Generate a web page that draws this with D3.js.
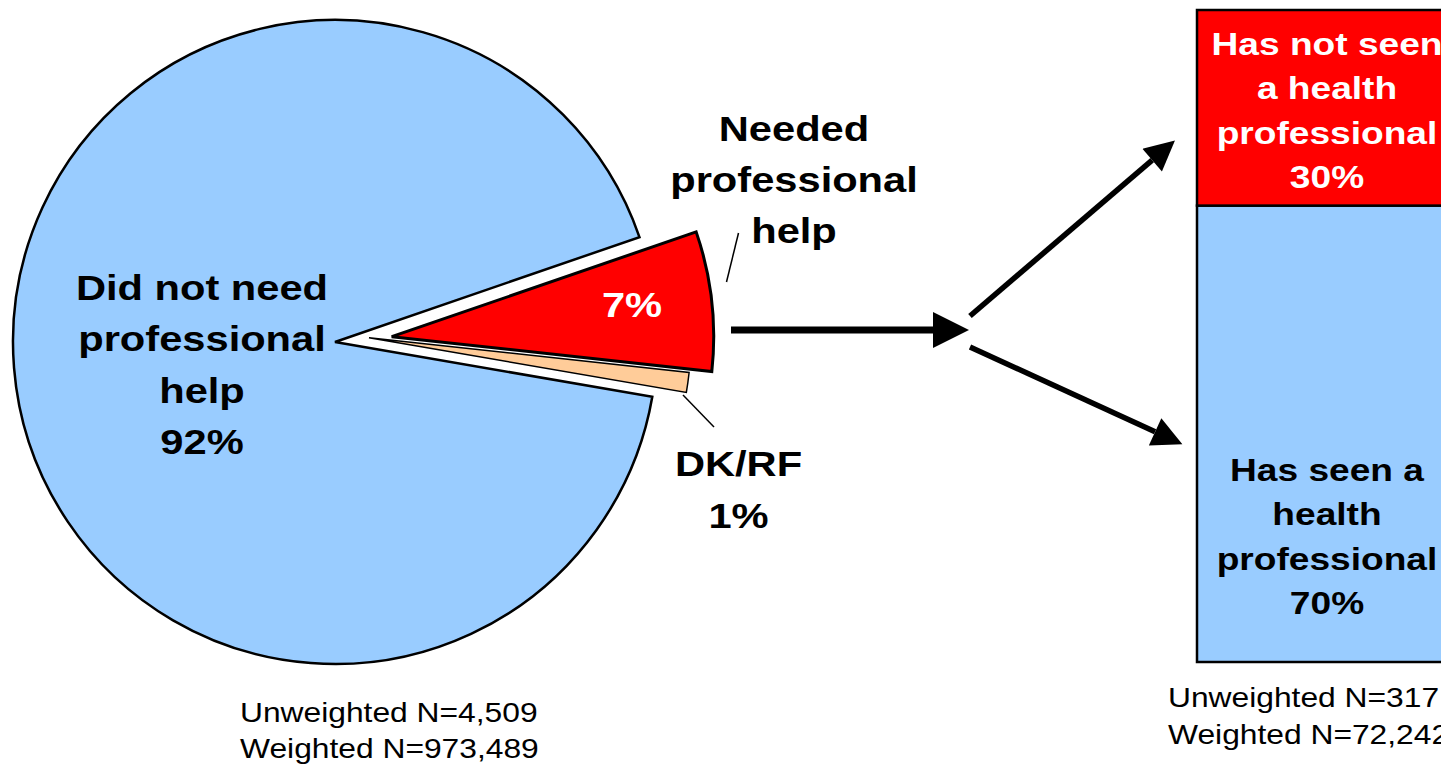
<!DOCTYPE html>
<html><head><meta charset="utf-8">
<script src="https://cdn.jsdelivr.net/npm/d3@7"></script>
<style>
html,body{margin:0;padding:0;background:#fff;}
svg{display:block;font-family:"Liberation Sans",Arial,sans-serif;}
</style></head>
<body>
<svg id="c" width="1441" height="765"></svg>
<script>
// ---- data ----
const pieCategories = ["Needed professional help", "DK/RF", "Did not need professional help"];
const pieValues = [7, 1, 92];
const pieColors = ["#FF0000", "#FFCC99", "#99CCFF"];
const pieLabelLines = [["Needed", "professional", "help"], ["DK/RF", "1%"], ["Did not need", "professional", "help", "92%"]];
const barCategories = ["Has seen a health professional", "Has not seen a health professional"];
const barValues = [70, 30];
const barColors = ["#99CCFF", "#FF0000"];
const barLabelLines = [["Has seen a", "health", "professional", "70%"], ["Has not seen", "a health", "professional", "30%"]];
const pieNotes = ["Unweighted N=4,509", "Weighted N=973,489"];
const barNotes = ["Unweighted N=317", "Weighted N=72,242"];

// ---- layout ----
const svg = d3.select("#c");
const cx = 335, cy = 342, R = 322;
const deg = Math.PI / 180;
const explode = [[56.7, -5.3], [34, -4.3], [0, 0]];
const strokeW = [3, 1.5, 2.5];

function textBlock(g, lines, x, y0, size, lh, sx, fill, weight) {
  const t = g.append("text")
    .attr("transform", `translate(${x},${y0}) scale(${sx},1)`)
    .attr("text-anchor", "middle")
    .attr("font-size", size)
    .attr("font-weight", weight)
    .attr("fill", fill);
  lines.forEach((s, i) => t.append("tspan").attr("x", 0).attr("y", i * lh).text(s));
  return t;
}
function textLeft(g, lines, x, y0, size, lh, sx) {
  const t = g.append("text")
    .attr("transform", `translate(${x},${y0}) scale(${sx},1)`)
    .attr("font-size", size).attr("fill", "#000");
  lines.forEach((s, i) => t.append("tspan").attr("x", 0).attr("y", i * lh).text(s));
}

// ---- pie ----
const pie = d3.pie().sort(null).value(d => d)
  .startAngle(71 * deg).endAngle(431 * deg);
const arcs = pie(pieValues);
const arc = d3.arc().innerRadius(0).outerRadius(R);
const drawOrder = [2, 1, 0];
const pg = svg.append("g");
drawOrder.forEach(i => {
  pg.append("path")
    .attr("d", arc(arcs[i]))
    .attr("transform", `translate(${cx + explode[i][0]},${cy + explode[i][1]})`)
    .attr("fill", pieColors[i])
    .attr("stroke", "#000")
    .attr("stroke-width", strokeW[i])
    .attr("stroke-linejoin", "miter");
});

// pie labels
const sx = 1.19;
textBlock(svg, pieLabelLines[2], 202, 300, 35, 51.3, sx, "#000", "bold");
textBlock(svg, pieLabelLines[0], 794, 141, 35, 51, sx, "#000", "bold");
textBlock(svg, pieLabelLines[1], 738.5, 476, 35, 52, sx, "#000", "bold");
textBlock(svg, [d3.format(".0f")(pieValues[0]) + "%"], 632, 317, 35, 0, sx, "#fff", "bold");

// leader lines
svg.append("line").attr("x1", 738.5).attr("y1", 233).attr("x2", 726.5).attr("y2", 282)
  .attr("stroke", "#000").attr("stroke-width", 1.5);
svg.append("line").attr("x1", 683).attr("y1", 395).attr("x2", 714).attr("y2", 427)
  .attr("stroke", "#000").attr("stroke-width", 1.5);

// ---- bar ----
const y = d3.scaleLinear().domain([0, 100]).range([662, 10]);
const x = d3.scaleBand().domain(["bar"]).range([1197, 1463]);
const stack = d3.stack().keys(barCategories)([Object.fromEntries(barCategories.map((c, i) => [c, barValues[i]]))]);
const bg = svg.append("g");
stack.forEach((s, i) => {
  bg.append("rect")
    .attr("x", x("bar")).attr("width", x.bandwidth())
    .attr("y", y(s[0][1])).attr("height", y(s[0][0]) - y(s[0][1]))
    .attr("fill", barColors[i]).attr("stroke", "#000").attr("stroke-width", 2.5);
});
const bcx = x("bar") + x.bandwidth() / 2;
textBlock(svg, barLabelLines[1], bcx - 3, 55, 32, 44.5, 1.16, "#fff", "bold");
textBlock(svg, barLabelLines[0], bcx - 3, 481, 32, 44.5, 1.16, "#000", "bold");

// ---- notes ----
textLeft(svg, pieNotes, 240, 722, 28, 36, 1.135);
textLeft(svg, barNotes, 1168, 707, 28, 37, 1.135);

// ---- arrows ----
const defs = svg.append("defs");
defs.append("marker").attr("id", "ah").attr("viewBox", "0 0 10 10")
  .attr("refX", 0).attr("refY", 5).attr("markerUnits", "userSpaceOnUse")
  .attr("markerWidth", 37).attr("markerHeight", 36).attr("orient", "auto")
  .append("path").attr("d", "M0,0L10,5L0,10Z").attr("fill", "#000");
defs.append("marker").attr("id", "ah2").attr("viewBox", "0 0 10 10")
  .attr("refX", 0).attr("refY", 5).attr("markerUnits", "userSpaceOnUse")
  .attr("markerWidth", 34).attr("markerHeight", 30).attr("orient", "auto")
  .append("path").attr("d", "M0,0L10,5L0,10Z").attr("fill", "#000");

svg.append("line").attr("x1", 731).attr("y1", 330).attr("x2", 933).attr("y2", 330)
  .attr("stroke", "#000").attr("stroke-width", 7).attr("marker-end", "url(#ah)");

function diag(x1, y1, x2, y2) {
  const L = Math.hypot(x2 - x1, y2 - y1), ux = (x2 - x1) / L, uy = (y2 - y1) / L;
  svg.append("line").attr("x1", x1).attr("y1", y1)
    .attr("x2", x2 - ux * 34).attr("y2", y2 - uy * 34)
    .attr("stroke", "#000").attr("stroke-width", 5.5).attr("marker-end", "url(#ah2)");
}
diag(970, 316, 1178, 138);
diag(970, 347, 1186, 446);
</script>
</body></html>
